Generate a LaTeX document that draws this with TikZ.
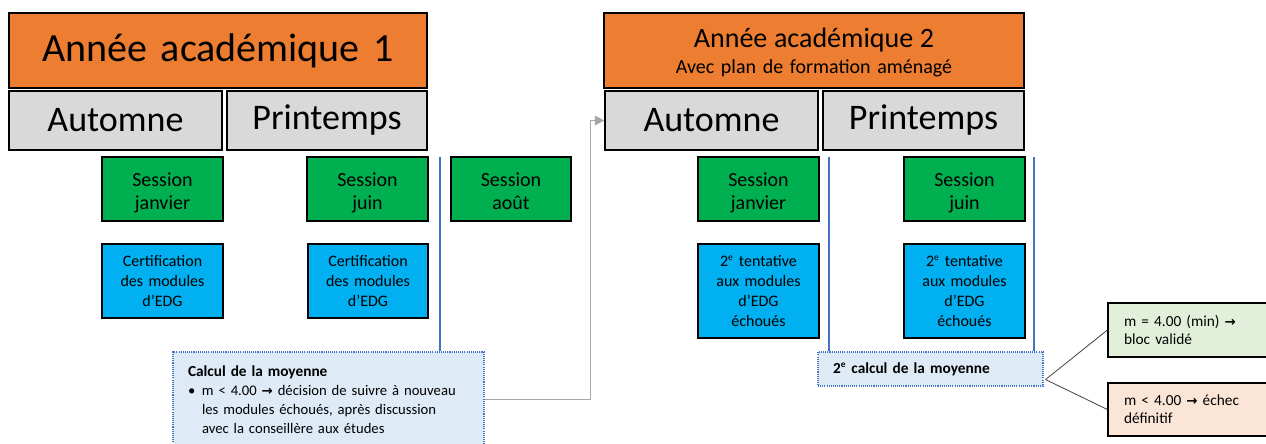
\documentclass[tikz,border=0pt]{standalone}
\usepackage{fontspec}
\setmainfont{Carlito}
\newfontfamily\djv{DejaVu Sans}
\usetikzlibrary{arrows.meta,calc}
\definecolor{orng}{HTML}{ED7D31}
\definecolor{gry}{HTML}{D9D9D9}
\definecolor{grn}{HTML}{00B050}
\definecolor{sky}{HTML}{00B0F0}
\definecolor{pale}{HTML}{DEEBF7}
\definecolor{palegrn}{HTML}{E2F0D9}
\definecolor{palered}{HTML}{FBE5D6}
\definecolor{lineblue}{HTML}{4472C4}
\definecolor{arrgray}{HTML}{A6A6A6}
\definecolor{connline}{HTML}{404040}
\newcommand\rarr{{\djv\bfseries\fontsize{10}{12}\selectfont →}}
\newcommand\supe{\textsuperscript{\fontsize{7}{8}\selectfont e}}
\tikzset{
  rect/.style n args={4}{minimum width={(#3-#1)*0.75pt}, minimum height={(#4-#2)*0.75pt}, at={({(#1+#3)/2},{(#2+#4)/2})}},
  box/.style={draw=black, line width=1.1pt, inner sep=0pt, align=center},
  yearbox/.style={box, fill=orng, text width=300pt},
  season/.style={box, fill=gry, font=\fontsize{27}{32}\selectfont},
  sess/.style={box, fill=grn, text width=85pt, text height=10.5pt, text depth=14.25pt, font=\fontsize{15}{17.25}\selectfont},
  cert/.style={box, fill=sky, text width=85pt, font=\fontsize{12}{15}\selectfont},
  calcbox/.style={draw=lineblue, line width=0.8pt, dash pattern=on 0.8pt off 0.8pt, fill=pale, inner sep=0pt, align=left},
  result/.style={draw=black, line width=0.9pt, inner sep=0pt, align=left, text width=99pt, font=\fontsize{11.5}{13.5}\selectfont},
  vline/.style={lineblue, line width=1.4pt},
}
\begin{document}
\begin{tikzpicture}[x=0.75pt,y=-0.75pt]
\useasboundingbox (0,0) rectangle (1266,443);
% Year 1
\node[yearbox, rect={9}{13}{427}{88}, font=\fontsize{30}{36}\selectfont] (y1) {Année académique 1};
\node[season, rect={9}{91}{222}{150}] (aut1) {Automne};
\node[season, rect={227}{91}{427}{150}] (pri1) {Printemps};
\node[sess, rect={102}{157}{223}{221}] (sj1) {Session\\janvier};
\node[sess, rect={307}{157}{428}{221}] (sju1) {Session\\juin};
\node[sess, rect={451}{157}{571}{221}] (sa1) {Session\\août};
\node[cert, rect={102}{244}{223}{318}] (c1) {Certification\\des modules\\d’EDG};
\node[cert, rect={308}{244}{428}{318}] (c2) {Certification\\des modules\\d’EDG};
% Year 2
\node[yearbox, rect={604}{13}{1024}{88}, text height=15pt, text depth=20.25pt, font=\fontsize{15}{19.5}\selectfont] (y2) {{\fontsize{21}{19.5}\selectfont Année académique 2}\\Avec plan de formation aménagé};
\node[season, rect={605}{91}{818}{150}] (aut2) {Automne};
\node[season, rect={823}{91}{1024}{150}] (pri2) {Printemps};
\node[sess, rect={698}{157}{819}{221}] (sj2) {Session\\janvier};
\node[sess, rect={904}{157}{1025}{221}] (sju2) {Session\\juin};
\node[cert, rect={698}{244}{819}{338}] (t1) {2\supe{} tentative\\aux modules\\d’EDG\\échoués};
\node[cert, rect={904}{244}{1025}{338}] (t2) {2\supe{} tentative\\aux modules\\d’EDG\\échoués};
% Calculation boxes
\node[calcbox, rect={173}{352}{484}{447}, text width=210.75pt, font=\fontsize{11}{14.25}\selectfont] (calc1) {{\fontsize{11.5}{14.25}\selectfont\bfseries Calcul de la moyenne}\\
\makebox[10.5pt][l]{•}\parbox[t]{200pt}{\raggedright m < 4.00 \rarr{} décision de suivre à nouveau\\les modules échoués, après discussion\\avec la conseillère aux études}};
\node[calcbox, rect={818}{352}{1043}{386}, text width=146pt, font=\fontsize{11.5}{13.5}\selectfont] (calc2) {\textbf{2\supe{} calcul de la moyenne}};
% Results
\node[result, fill=palegrn, rect={1108}{303}{1272}{357}] (r1) {m = 4.00 (min) \rarr\\bloc validé};
\node[result, fill=palered, rect={1108}{383}{1272}{436}] (r2) {m < 4.00 \rarr{} échec\\définitif};
% Vertical lines
\coordinate (v1) at (440,157);
\coordinate (v2) at (829,157);
\coordinate (v3) at (1034,157);
\draw[vline] (v1) -- (v1 |- calc1.north);
\draw[vline] (v2) -- (v2 |- calc2.north);
\draw[vline] (v3) -- (v3 |- calc2.north);
% Gray arrow
\draw[arrgray, line width=1.3pt, -{Triangle[length=7pt,width=7pt]}] (calc1.east) -- ++(106,0) |- (aut2.west);
% Result connectors
\coordinate (c2o) at ($(calc2.south east)+(2,-7)$);
\draw[connline, line width=0.6pt] (c2o) -- (r1.west);
\draw[connline, line width=0.6pt] (c2o) -- (r2.west);
\end{tikzpicture}
\end{document}
